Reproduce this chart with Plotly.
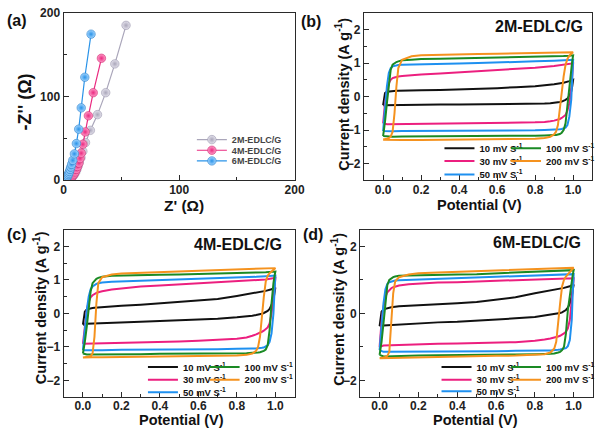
import plotly.graph_objects as go

W, H = 608, 436
FONT = "Liberation Sans, Arial, sans-serif"

# ---------------- Panel (a): Nyquist data ----------------
Z2_RE = [3.5, 4.5, 5.5, 6.5, 7.5, 8.5, 9.5, 10.5, 11.5, 12.5, 13.5, 15.0, 16.6, 18.9, 23.1, 29.3, 36.4, 44.3, 54.0]
Z2_IM = [0.5, 1.0, 1.8, 2.8, 4.0, 5.5, 7.5, 10.0, 13.0, 17.0, 21.5, 27.0, 34.6, 45.0, 59.6, 78.4, 104.6, 139.0, 185.0]
Z4_RE = [3.0, 4.0, 5.0, 6.0, 7.0, 8.0, 9.0, 10.0, 11.0, 12.0, 13.2, 14.2, 15.2, 16.6, 18.6, 21.4, 25.6, 32.7]
Z4_IM = [0.4, 0.8, 1.5, 2.5, 3.8, 5.5, 7.5, 10.0, 13.0, 16.5, 20.5, 26.0, 32.3, 43.0, 57.7, 77.0, 104.6, 145.7]
Z6_RE = [1.0, 1.5, 2.0, 2.5, 3.0, 3.5, 4.0, 4.5, 5.0, 5.6, 6.2, 6.9, 7.9, 9.3, 11.0, 13.0, 15.2, 18.3, 23.7]
Z6_IM = [0.2, 0.7, 1.5, 2.6, 3.8, 5.2, 6.8, 8.5, 10.5, 13.0, 15.8, 19.0, 23.8, 31.5, 43.8, 61.0, 86.5, 123.0, 174.5]
EIS_NAMES = ["2M-EDLC/G", "4M-EDLC/G", "6M-EDLC/G"]

# ---------------- Panels (b)-(d): CV data ----------------
POT_FWD = [0.0, 0.005, 0.01, 0.02, 0.03, 0.04, 0.05, 0.06, 0.07, 0.08, 0.1, 0.15, 0.2, 0.3, 0.4, 0.5, 0.6, 0.7, 0.8, 0.9, 0.95, 0.98, 1.0]
POT_REV = [1.0, 0.995, 0.99, 0.98, 0.97, 0.96, 0.95, 0.94, 0.93, 0.92, 0.91, 0.9, 0.88, 0.85, 0.8, 0.7, 0.6, 0.5, 0.4, 0.3, 0.2, 0.1, 0.05, 0.02, 0.0]
RATES = ["10", "30", "50", "100", "200"]

FWD_2M = [
    [-0.26, 0.02, 0.1, 0.14, 0.15, 0.155, 0.16, 0.165, 0.17, 0.17, 0.175, 0.18, 0.185, 0.195, 0.21, 0.23, 0.25, 0.28, 0.31, 0.37, 0.41, 0.46, 0.5],
    [-0.8, -0.5, -0.2, 0.15, 0.4, 0.5, 0.55, 0.57, 0.59, 0.6, 0.61, 0.64, 0.66, 0.69, 0.72, 0.75, 0.78, 0.82, 0.86, 0.91, 0.94, 0.96, 0.99],
    [-1.03, -0.7, -0.35, 0.3, 0.7, 0.85, 0.9, 0.92, 0.93, 0.94, 0.95, 0.96, 0.97, 0.98, 0.99, 1.0, 1.01, 1.03, 1.05, 1.07, 1.08, 1.09, 1.1],
    [-1.18, -1.0, -0.75, -0.2, 0.4, 0.8, 0.95, 1.0, 1.03, 1.05, 1.08, 1.1, 1.12, 1.13, 1.14, 1.15, 1.16, 1.17, 1.18, 1.2, 1.21, 1.22, 1.23],
    [-1.28, -1.28, -1.27, -1.26, -1.24, -1.2, -1.05, -0.5, 0.3, 0.85, 1.1, 1.2, 1.23, 1.25, 1.26, 1.27, 1.28, 1.29, 1.3, 1.31, 1.32, 1.32, 1.32],
]
REV_2M = [
    [0.5, 0.3, 0.15, 0.02, -0.06, -0.1, -0.13, -0.15, -0.16, -0.17, -0.18, -0.19, -0.2, -0.21, -0.215, -0.22, -0.225, -0.23, -0.235, -0.24, -0.245, -0.25, -0.255, -0.26, -0.26],
    [0.99, 0.6, 0.2, -0.2, -0.42, -0.55, -0.6, -0.64, -0.67, -0.69, -0.71, -0.72, -0.74, -0.76, -0.77, -0.78, -0.79, -0.8, -0.81, -0.82, -0.82, -0.83, -0.83, -0.83, -0.8],
    [1.1, 0.5, -0.1, -0.6, -0.85, -0.93, -0.96, -0.97, -0.98, -0.985, -0.99, -0.99, -1.0, -1.0, -1.01, -1.01, -1.02, -1.02, -1.02, -1.03, -1.03, -1.03, -1.04, -1.04, -1.03],
    [1.23, 1.05, 0.8, 0.35, -0.3, -0.8, -1.0, -1.08, -1.12, -1.14, -1.15, -1.15, -1.16, -1.16, -1.17, -1.17, -1.18, -1.18, -1.18, -1.19, -1.19, -1.19, -1.2, -1.2, -1.18],
    [1.32, 1.3, 1.28, 1.22, 1.12, 0.95, 0.6, 0.1, -0.45, -0.85, -1.05, -1.13, -1.2, -1.24, -1.26, -1.27, -1.28, -1.28, -1.29, -1.29, -1.3, -1.3, -1.3, -1.3, -1.29],
]
FWD_4M = [
    [-0.34, -0.05, 0.05, 0.12, 0.14, 0.15, 0.16, 0.17, 0.175, 0.18, 0.2, 0.21, 0.23, 0.26, 0.3, 0.33, 0.38, 0.43, 0.52, 0.61, 0.67, 0.72, 0.77],
    [-0.91, -0.6, -0.3, 0.1, 0.35, 0.48, 0.54, 0.58, 0.61, 0.63, 0.66, 0.71, 0.74, 0.8, 0.83, 0.86, 0.9, 0.93, 0.96, 0.99, 1.01, 1.04, 1.06],
    [-1.1, -0.8, -0.45, 0.1, 0.5, 0.72, 0.8, 0.85, 0.88, 0.9, 0.92, 0.94, 0.95, 0.96, 0.97, 0.99, 1.01, 1.03, 1.06, 1.09, 1.11, 1.12, 1.13],
    [-1.2, -1.05, -0.85, -0.4, 0.2, 0.65, 0.9, 0.98, 1.03, 1.06, 1.09, 1.12, 1.13, 1.14, 1.15, 1.16, 1.17, 1.19, 1.2, 1.22, 1.23, 1.24, 1.25],
    [-1.32, -1.32, -1.31, -1.3, -1.29, -1.27, -1.2, -0.7, 0.3, 0.9, 1.08, 1.16, 1.19, 1.21, 1.22, 1.24, 1.26, 1.28, 1.3, 1.32, 1.33, 1.34, 1.35],
]
REV_4M = [
    [0.77, 0.6, 0.42, 0.25, 0.13, 0.07, 0.03, 0.01, -0.01, -0.03, -0.04, -0.05, -0.07, -0.09, -0.12, -0.16, -0.19, -0.21, -0.23, -0.25, -0.27, -0.29, -0.3, -0.31, -0.34],
    [1.06, 0.75, 0.4, 0.0, -0.3, -0.42, -0.48, -0.52, -0.55, -0.58, -0.61, -0.63, -0.67, -0.72, -0.76, -0.8, -0.82, -0.84, -0.85, -0.86, -0.87, -0.89, -0.9, -0.9, -0.91],
    [1.13, 0.6, 0.0, -0.6, -0.85, -0.95, -1.0, -1.02, -1.03, -1.04, -1.05, -1.05, -1.05, -1.06, -1.06, -1.07, -1.07, -1.08, -1.08, -1.09, -1.09, -1.1, -1.1, -1.1, -1.1],
    [1.25, 1.1, 0.9, 0.3, -0.5, -0.95, -1.08, -1.12, -1.15, -1.16, -1.17, -1.18, -1.18, -1.19, -1.19, -1.2, -1.2, -1.21, -1.21, -1.22, -1.22, -1.22, -1.23, -1.23, -1.2],
    [1.35, 1.32, 1.3, 1.26, 1.2, 1.12, 0.95, 0.5, -0.1, -0.7, -1.0, -1.12, -1.2, -1.24, -1.26, -1.27, -1.28, -1.29, -1.29, -1.3, -1.3, -1.31, -1.31, -1.32, -1.32],
]
FWD_6M = [
    [-0.38, -0.1, 0.05, 0.12, 0.14, 0.16, 0.17, 0.18, 0.19, 0.2, 0.21, 0.23, 0.24, 0.27, 0.3, 0.34, 0.4, 0.48, 0.6, 0.7, 0.76, 0.81, 0.86],
    [-1.0, -0.6, -0.25, 0.2, 0.48, 0.63, 0.7, 0.75, 0.78, 0.8, 0.83, 0.87, 0.89, 0.92, 0.93, 0.95, 0.96, 0.98, 1.0, 1.02, 1.03, 1.04, 1.05],
    [-1.1, -0.75, -0.35, 0.3, 0.72, 0.88, 0.93, 0.95, 0.97, 0.98, 0.99, 1.0, 1.01, 1.02, 1.03, 1.05, 1.07, 1.09, 1.11, 1.14, 1.15, 1.16, 1.17],
    [-1.24, -1.1, -0.85, -0.3, 0.35, 0.85, 1.0, 1.05, 1.08, 1.1, 1.12, 1.13, 1.14, 1.15, 1.16, 1.17, 1.19, 1.21, 1.23, 1.26, 1.27, 1.28, 1.29],
    [-1.34, -1.34, -1.33, -1.32, -1.3, -1.27, -1.15, -0.3, 0.6, 0.95, 1.08, 1.16, 1.2, 1.22, 1.24, 1.26, 1.28, 1.3, 1.32, 1.34, 1.35, 1.36, 1.36],
]
REV_6M = [
    [0.86, 0.7, 0.5, 0.3, 0.17, 0.1, 0.06, 0.03, 0.01, 0.0, -0.02, -0.03, -0.05, -0.08, -0.11, -0.15, -0.19, -0.22, -0.25, -0.27, -0.3, -0.32, -0.34, -0.36, -0.38],
    [1.05, 0.7, 0.3, -0.2, -0.45, -0.55, -0.6, -0.64, -0.67, -0.69, -0.71, -0.72, -0.75, -0.78, -0.82, -0.86, -0.88, -0.89, -0.9, -0.91, -0.92, -0.94, -0.95, -0.96, -1.0],
    [1.17, 0.6, -0.2, -0.8, -0.98, -1.04, -1.06, -1.07, -1.08, -1.09, -1.1, -1.1, -1.11, -1.11, -1.12, -1.12, -1.13, -1.13, -1.14, -1.14, -1.14, -1.15, -1.15, -1.15, -1.1],
    [1.29, 1.15, 0.95, 0.55, 0.1, -0.6, -1.0, -1.1, -1.15, -1.17, -1.19, -1.2, -1.21, -1.22, -1.22, -1.23, -1.23, -1.24, -1.24, -1.25, -1.26, -1.27, -1.28, -1.29, -1.24],
    [1.36, 1.33, 1.3, 1.25, 1.18, 1.1, 1.0, 0.8, 0.3, -0.3, -0.85, -1.05, -1.17, -1.22, -1.24, -1.26, -1.27, -1.28, -1.29, -1.3, -1.31, -1.32, -1.33, -1.34, -1.34],
]
CV_SAMPLES = ["2M-EDLC/G", "4M-EDLC/G", "6M-EDLC/G"]

# ---------------- styles ----------------
CV_COLORS = ["#111111", "#ec1f7f", "#1e90f0", "#1a8a24", "#f5921e"]
EIS_LINE = ["#aaa6ba", "#ea2a80", "#2a93e8"]
EIS_FILL = ["#e4e2ec", "#ff9cc8", "#a5d6ff"]
EIS_EDGE = ["#8a86a0", "#c5105f", "#1570c0"]

# panel pixel boxes: (left, top, right, bottom)
BOX = {
    "a": (62, 6, 298, 179),
    "b": (369, 6, 602, 179),
    "c": (62, 230, 298, 403),
    "d": (365, 230, 603, 403),
}

def dom(box):
    l, t, r, b = box
    return [l / W, r / W], [1 - b / H, 1 - t / H]

fig = go.Figure()
layout_legends = {}
leg_i = [0]

def new_legend(xpx, ypx, size=9.5, color="#111111"):
    leg_i[0] += 1
    key = "legend" if leg_i[0] == 1 else f"legend{leg_i[0]}"
    layout_legends[key] = dict(
        x=xpx / W, y=1 - ypx / H, xanchor="left", yanchor="middle",
        bgcolor="rgba(0,0,0,0)", borderwidth=0,
        font=dict(family=FONT, size=size, weight="bold", color=color),
        itemclick=False, itemdoubleclick=False,
    )
    return key

# Panel (a)
EIS_RE = [Z2_RE, Z4_RE, Z6_RE]
EIS_IM = [Z2_IM, Z4_IM, Z6_IM]
for i in range(3):
    lk = new_legend(193, 137 + 11 * i, size=9, color="#444444")
    fig.add_trace(go.Scatter(
        x=EIS_RE[i], y=EIS_IM[i], name=EIS_NAMES[i], mode="lines+markers",
        line=dict(color=EIS_LINE[i], width=1.2),
        marker=dict(size=8.5, color=EIS_FILL[i],
                    gradient=dict(type="radial", color=EIS_LINE[i]),
                    line=dict(width=0.5, color=EIS_EDGE[i])),
        xaxis="x", yaxis="y", legend=lk,
    ))

# Panels (b)-(d)
CV_FWD = [FWD_2M, FWD_4M, FWD_6M]
CV_REV = [REV_2M, REV_4M, REV_6M]
AX = [("x2", "y2"), ("x3", "y3"), ("x4", "y4")]
LEG_POS = [  # (col1 item-left, col2 item-left, row y list)
    (446, 514, [146, 159, 173]),
    (143, 206, [372, 385, 398]),
    (443, 514, [372, 385, 397]),
]
for p in range(3):
    c1, c2, rows = LEG_POS[p]
    for k, rate in enumerate(RATES):
        if k < 3:
            lk = new_legend(c1, rows[k])
        else:
            lk = new_legend(c2, rows[k - 3])
        fig.add_trace(go.Scatter(
            x=POT_FWD + POT_REV, y=CV_FWD[p][k] + CV_REV[p][k],
            name=f"{rate} mV S<sup>-1</sup>", mode="lines",
            line=dict(color=CV_COLORS[k], width=2),
            xaxis=AX[p][0], yaxis=AX[p][1], legend=lk,
        ))

axcol = "#2a2a2a"
tickfont = dict(family=FONT, size=12, weight="bold", color="#222222")

def xax(box, rng, dtick, mdtick, fmt=None, lstand=-2):
    d, _ = dom(box)
    a = dict(domain=d, range=rng, dtick=dtick, tick0=0, ticks="inside", ticklen=5,
             tickwidth=1.2, tickcolor=axcol, showline=True, linecolor=axcol, linewidth=1.3,
             mirror=True, showgrid=False, zeroline=False, tickfont=tickfont,
             ticklabeloverflow="allow", ticklabelstandoff=lstand,
             minor=dict(dtick=mdtick, ticks="inside", ticklen=3, tickcolor=axcol, showgrid=False))
    if fmt:
        a["tickformat"] = fmt
    return a

def yax(box, rng, dtick, mdtick):
    _, d = dom(box)
    return dict(domain=d, range=rng, dtick=dtick, tick0=0, ticks="inside", ticklen=5,
                tickwidth=1.2, tickcolor=axcol, showline=True, linecolor=axcol, linewidth=1.3,
                mirror=True, showgrid=False, zeroline=False, tickfont=tickfont,
                ticklabeloverflow="allow",
                minor=dict(dtick=mdtick, ticks="inside", ticklen=3, tickcolor=axcol, showgrid=False))

fig.update_layout(
    width=W, height=H, margin=dict(l=0, r=0, t=0, b=0),
    paper_bgcolor="white", plot_bgcolor="white",
    xaxis=xax(BOX["a"], [0, 200], 100, 50),
    yaxis=yax(BOX["a"], [0, 200], 100, 50),
    xaxis2=dict(xax(BOX["b"], [-0.1, 1.1], 0.2, 0.1, ".1f"), anchor="y2"),
    yaxis2=dict(yax(BOX["b"], [-2.5, 2.5], 1, 0.5), anchor="x2"),
    xaxis3=dict(xax(BOX["c"], [-0.1, 1.1], 0.2, 0.1, ".1f", lstand=-3), anchor="y3"),
    yaxis3=dict(yax(BOX["c"], [-2.5, 2.5], 1, 0.5), anchor="x3"),
    xaxis4=dict(xax(BOX["d"], [-0.1, 1.1], 0.2, 0.1, ".1f", lstand=-3), anchor="y4"),
    yaxis4=dict(yax(BOX["d"], [-2.5, 2.5], 2, 1), anchor="x4"),
    showlegend=True,
    **layout_legends,
)

def ann(text, xp, yp, size, angle=0, xanchor="center"):
    fig.add_annotation(text=text, x=xp / W, y=1 - yp / H, xref="paper", yref="paper",
                       xanchor=xanchor, yanchor="middle", showarrow=False, textangle=angle,
                       font=dict(family=FONT, size=size, weight="bold", color="#111111"))

# axis titles
cv_title_y = "Current density (A g<sup>-1</sup>)"
ann("Z' (Ω)", 185, 205, 15.5)
ann("-Z'' (Ω)", 22, 98, 18, angle=-90)
ann("Potential (V)", 487, 205, 14.5)
ann("Potential (V)", 182, 427, 14.5)
ann("Potential (V)", 483, 427, 14.5)
ann(cv_title_y, 347, 90, 14.5, angle=-90)
ann(cv_title_y, 38, 311, 14.5, angle=-90)
ann(cv_title_y, 342, 312, 14.5, angle=-90)

# panel labels and sample names
for txt, xp, yp in [("(a)", 2, 14), ("(b)", 302, 15), ("(c)", 2, 235), ("(d)", 305, 235)]:
    ann(txt, xp, yp, 16, xanchor="left")
for (xp, yp), nm in zip([(595, 20), (287, 245), (593, 243)], CV_SAMPLES):
    ann(nm, xp, yp, 16, xanchor="right")

fig.write_html("out.html", config={"displayModeBar": False})
